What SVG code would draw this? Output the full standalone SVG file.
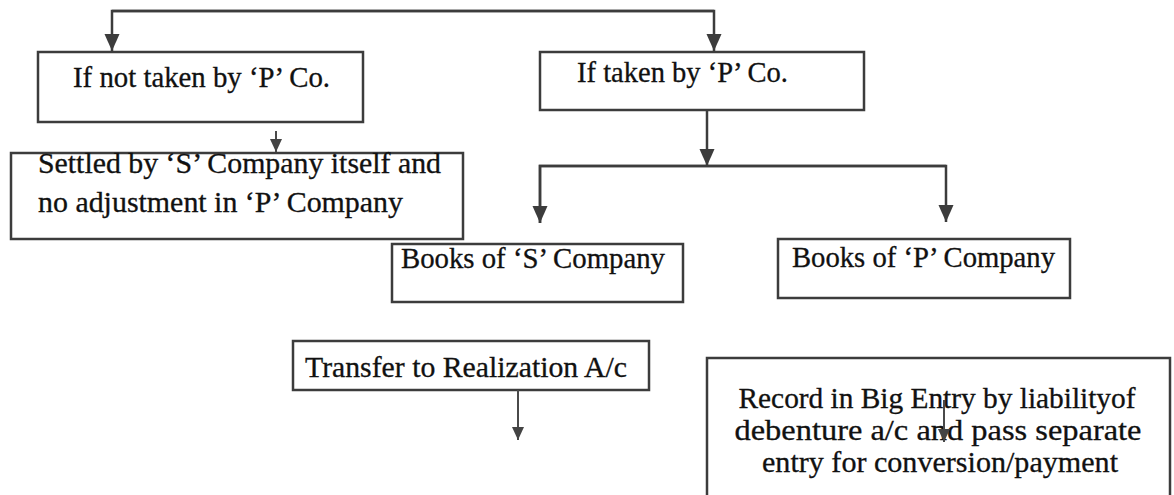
<svg xmlns="http://www.w3.org/2000/svg" width="1174" height="495" viewBox="0 0 1174 495">
  <style>
    .box { fill: #ffffff; stroke: #3c3c3c; stroke-width: 2.5; }
    .lbl { font-family: "Liberation Serif", "Times New Roman", serif; font-size: 28.5px; fill: #111111; stroke: #111111; stroke-width: 0.3; }
    .mid { text-anchor: middle; }
    .wire { fill: none; stroke: #3c3c3c; stroke-width: 2.5; }
    .thin { fill: none; stroke: #4a4a4a; stroke-width: 2; }
  </style>
  <defs>
    <marker id="head" markerUnits="userSpaceOnUse" markerWidth="18" markerHeight="18" viewBox="0 0 18 18" refX="17" refY="9" orient="auto">
      <path d="M0,1.5 L17,9 L0,16.5 Z" fill="#3c3c3c"/>
    </marker>
    <marker id="headSmall" markerUnits="userSpaceOnUse" markerWidth="14" markerHeight="14" viewBox="0 0 14 14" refX="13" refY="7" orient="auto">
      <path d="M0,1 L13,7 L0,13 Z" fill="#444444"/>
    </marker>
  </defs>

  <rect width="1174" height="495" fill="#ffffff"/>

  <g id="not-taken">
    <rect class="box" x="38" y="52" width="325" height="70"/>
    <text class="lbl" x="73" y="87" textLength="257" lengthAdjust="spacingAndGlyphs">If not taken by ‘P’ Co.</text>
  </g>

  <g id="taken">
    <rect class="box" x="540" y="52" width="324" height="58"/>
    <text class="lbl" x="577" y="82" textLength="211" lengthAdjust="spacingAndGlyphs">If taken by ‘P’ Co.</text>
  </g>

  <g id="settled">
    <rect class="box" x="11" y="153" width="452" height="86"/>
    <text class="lbl" x="38" y="173" textLength="403" lengthAdjust="spacingAndGlyphs">Settled by ‘S’ Company itself and</text>
    <text class="lbl" x="38" y="212" textLength="365" lengthAdjust="spacingAndGlyphs">no adjustment in ‘P’ Company</text>
  </g>

  <g id="books-s">
    <rect class="box" x="392" y="244" width="291" height="58"/>
    <text class="lbl" x="401" y="268" textLength="264" lengthAdjust="spacingAndGlyphs">Books of ‘S’ Company</text>
  </g>

  <g id="books-p">
    <rect class="box" x="778" y="239" width="292" height="59"/>
    <text class="lbl" x="792" y="267" textLength="263" lengthAdjust="spacingAndGlyphs">Books of ‘P’ Company</text>
  </g>

  <g id="transfer">
    <rect class="box" x="293" y="341" width="356" height="49"/>
    <text class="lbl" x="305" y="377" textLength="322" lengthAdjust="spacingAndGlyphs">Transfer to Realization A/c</text>
  </g>

  <g id="record">
    <rect class="box" x="707" y="358" width="463" height="142"/>
    <text class="lbl mid" x="937" y="408" textLength="397" lengthAdjust="spacingAndGlyphs">Record in Big Entry by liabilityof</text>
    <text class="lbl mid" x="938" y="440" textLength="407" lengthAdjust="spacingAndGlyphs">debenture a/c and pass separate</text>
    <text class="lbl mid" x="940" y="472" textLength="356" lengthAdjust="spacingAndGlyphs">entry for conversion/payment</text>
  </g>

  <g id="connectors">
    <!-- split at the top into the two cases -->
    <path class="wire" d="M112,11 H714 V51" marker-end="url(#head)"/>
    <path class="wire" d="M714,11 H112 V51" marker-end="url(#head)"/>
    <!-- not taken -> settled -->
    <path class="thin" d="M276,131 V152" marker-end="url(#headSmall)"/>
    <!-- taken -> branch line -->
    <path class="wire" d="M707,110 V166" marker-end="url(#head)"/>
    <!-- branch line to both sets of books -->
    <path class="wire" d="M540,223 V166 H946 V222" marker-end="url(#head)"/>
    <path class="wire" d="M946,166 H540 V223" marker-end="url(#head)"/>
    <!-- transfer -> below -->
    <path class="thin" d="M518,390 V440" marker-end="url(#headSmall)"/>
    <!-- stray arrow inside the record box -->
    <path class="thin" d="M944,400 V442" marker-end="url(#headSmall)"/>
  </g>
</svg>
